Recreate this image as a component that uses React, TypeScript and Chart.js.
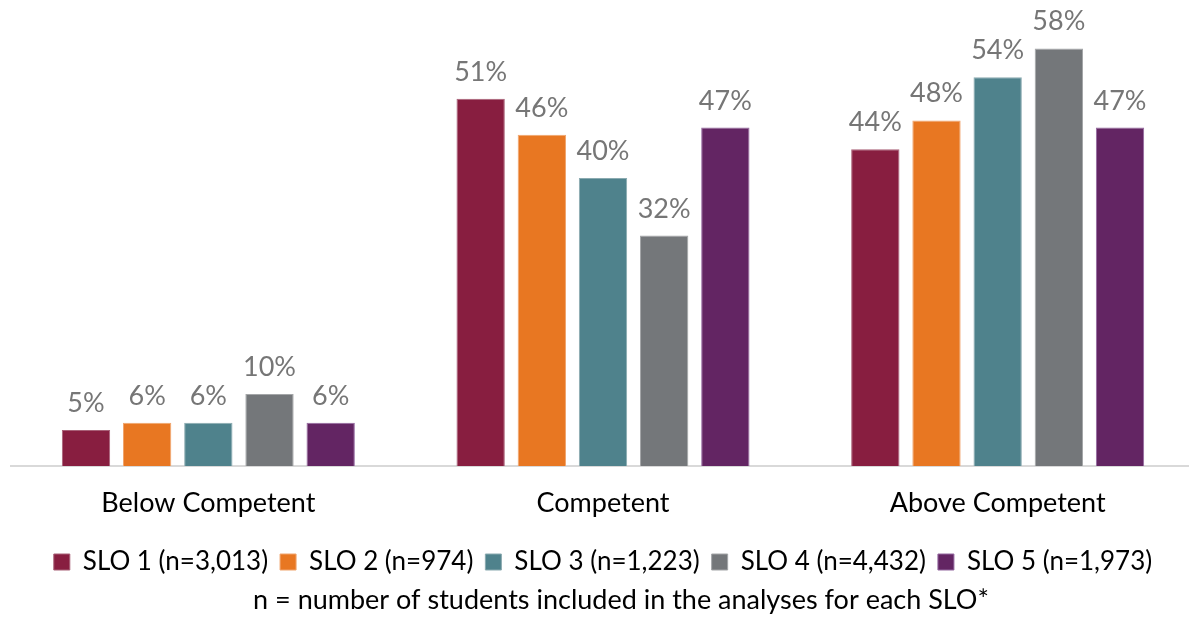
import React, { useEffect, useRef } from "react";
import { Chart, registerables } from "chart.js";

Chart.register(...registerables);

const categories = ["Below Competent", "Competent", "Above Competent"];
const seriesNames = [
  "SLO 1 (n=3,013)",
  "SLO 2 (n=974)",
  "SLO 3 (n=1,223)",
  "SLO 4 (n=4,432)",
  "SLO 5 (n=1,973)",
];
const slo1 = [5, 51, 44];
const slo2 = [6, 46, 48];
const slo3 = [6, 40, 54];
const slo4 = [10, 32, 58];
const slo5 = [6, 47, 47];
const seriesColors = ["#881E40", "#E87722", "#4F828C", "#74777A", "#632563"];
const borderColors = ["#A86077", "#F0A56E", "#8AAAB0", "#A4A6A8", "#9468A0"];
const footnote = "n = number of students included in the analyses for each SLO*";

const FONT = "Lato, 'Open Sans', sans-serif";
const CANVAS_W = 1195;
const CANVAS_H = 619;

const valueLabelPlugin = {
  id: "valueLabels",
  afterDatasetsDraw(chart: any) {
    const ctx = chart.ctx;
    ctx.save();
    ctx.font = `27px ${FONT}`;
    ctx.fillStyle = "#767676";
    ctx.textAlign = "center";
    ctx.textBaseline = "alphabetic";
    chart.data.datasets.forEach((ds: any, i: number) => {
      const meta = chart.getDatasetMeta(i);
      meta.data.forEach((bar: any, j: number) => {
        ctx.fillText(`${ds.data[j]}%`, bar.x, bar.y - 18);
      });
    });
    ctx.restore();
  },
};

const footnotePlugin = {
  id: "footnote",
  afterDraw(chart: any) {
    const ctx = chart.ctx;
    ctx.save();
    ctx.font = `27px ${FONT}`;
    ctx.fillStyle = "#000000";
    ctx.textAlign = "center";
    ctx.textBaseline = "middle";
    ctx.fillText(footnote, 621, chart.height - 19);
    ctx.restore();
  },
};

export default function App() {
  const ref = useRef<HTMLCanvasElement | null>(null);
  useEffect(() => {
    document.body.style.margin = "0";
    const all = [slo1, slo2, slo3, slo4, slo5];
    const chart = new Chart(ref.current!, {
      type: "bar",
      data: {
        labels: categories,
        datasets: all.map((d, i) => ({
          label: seriesNames[i],
          data: d,
          backgroundColor: seriesColors[i],
          borderColor: borderColors[i],
          borderWidth: 1,
          categoryPercentage: 0.775,
          barPercentage: 0.79,
        })),
      },
      options: {
        responsive: false,
        animation: false,
        layout: { padding: { left: 11, right: 0, top: 34, bottom: 34 } },
        scales: {
          x: {
            grid: { display: false, drawTicks: false },
            border: { display: true, color: "#D9D9D9", width: 2 },
            ticks: { color: "#000000", font: { family: FONT, size: 27 }, padding: 21 },
            afterFit: (scale: any) => {
              scale.height = 71;
            },
          },
          y: { display: false, min: 0, max: 60 },
        },
        plugins: {
          tooltip: { enabled: false },
          legend: {
            position: "bottom",
            labels: {
              color: "#000000",
              font: { family: FONT, size: 26 },
              boxWidth: 16,
              boxHeight: 16,
              padding: 12,
            },
          },
        },
      },
      plugins: [valueLabelPlugin, footnotePlugin],
    });
    return () => chart.destroy();
  }, []);
  return (
    <div style={{ width: 1189, height: 619, overflow: "hidden", background: "#fff" }}>
      <canvas ref={ref} width={CANVAS_W} height={CANVAS_H} />
    </div>
  );
}
